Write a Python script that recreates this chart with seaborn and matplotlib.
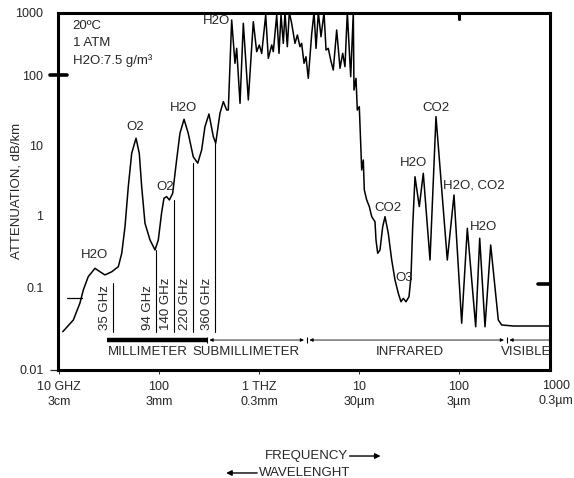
import numpy as np
import matplotlib.pyplot as plt
import seaborn as sns
from matplotlib.transforms import blended_transform_factory
from matplotlib.ticker import NullLocator

sns.set_style("white")
plt.rcParams['font.family'] = ['Liberation Sans', 'DejaVu Sans']

# attenuation curve, frequency in GHz, attenuation in dB/km
freq_ghz = [10.9, 13.9, 16.2, 17.5, 19.6, 22.9, 25.7, 28.8, 33.7, 39.2,
            42.4, 45.7, 49.3, 53.3, 58.9, 63.5, 67.1, 72.4, 81.3, 91.2,
            98.4, 106, 112, 119, 127, 137, 150, 162, 178, 196,
            220, 244, 267, 288, 316, 349, 369, 407, 440, 475,
            493, 533, 575, 598, 646, 697, 782, 877, 948, 1007,
            1064, 1167, 1239, 1340, 1390, 1503, 1585, 1660, 1750, 1820,
            1920, 2010, 2120, 2290, 2420, 2570, 2670, 2820, 2950, 3110,
            3370, 3550, 3720, 3920, 4170, 4470, 4680, 4930, 5210, 5530,
            5980, 6460, 6870, 7240, 7640, 8260, 8770, 8910, 9330, 9620,
            10070, 10640, 11040, 11300, 11940, 12680, 13400, 14450, 14790, 15380,
            16220, 17260, 18200, 19630, 21230, 22910, 24720, 26300, 27730, 29510,
            31620, 33110, 34430, 36310, 40090, 43950, 51290, 58880, 76390, 89130,
            106400, 121100, 146900, 161100, 182000, 207500, 247200, 267300, 349100, 813000]
atten_db_km = [0.0293, 0.0407, 0.0656, 0.0946, 0.143, 0.186, 0.167, 0.151, 0.167, 0.196,
               0.299, 0.691, 2.54, 7.6, 12.5, 7.6, 2.54, 0.769, 0.455, 0.332,
               0.455, 1.06, 1.73, 1.83, 1.64, 2.04, 6.1, 14.7, 23.3, 14.7,
               6.8, 5.5, 8.5, 18.2, 27.7, 13.2, 10.6, 28.4, 41.6, 31.6,
               31.6, 759, 154, 267, 39.4, 672, 44, 713, 236, 302,
               222, 912, 185, 302, 236, 912, 222, 912, 321, 1000,
               284, 1000, 672, 321, 437, 284, 321, 154, 196, 89.7,
               464, 1000, 267, 1000, 410, 1000, 251, 267, 174, 120,
               525, 128, 222, 136, 1000, 94.6, 1000, 61, 89.7, 31.6,
               35.2, 4.4, 6.1, 2.28, 1.64, 1.32, 0.948, 0.81, 0.455, 0.299,
               0.332, 0.691, 0.948, 0.561, 0.242, 0.129, 0.0861, 0.068, 0.0748, 0.068,
               0.0783, 0.143, 0.691, 3.52, 1.32, 3.94, 0.242, 25.4, 0.242, 1.93,
               0.0372, 0.658, 0.0337, 0.48, 0.0337, 0.388, 0.0407, 0.0354, 0.0344, 0.0344]

# absorption line labels
line_names = ["H2O", "O2", "O2", "H2O", "H2O", "CO2", "H2O", "H2O, CO2", "CO2", "O3", "H2O"]
line_freq = [22.9, 57.5, 115, 174, 372, 58900, 34700, 141000, 19500, 28200, 174000]
line_atten = [0.283, 18.1, 2.5, 33.8, 731, 33.8, 5.5, 2.68, 1.26, 0.137, 0.685]

# radar window markers
window_ghz = [35, 94, 140, 220, 360]
window_top = [0.117, 0.332, 1.64, 5.5, 10.6]
window_bottom = 0.029

# spectrum bands
band_edges = [30, 300, 3000, 300000, 813000]
band_names = ["MILLIMETER", "SUBMILLIMETER", "INFRARED", "VISIBLE"]
band_label_x = [31, 733, 32000, 470000]
band_y = 0.0232
band_text_y = 0.0166

x_ticks = [10, 100, 1000, 10000, 100000]
x_labels = ["10 GHZ\n3cm", "100\n3mm", "1 THZ\n0.3mm", "10\n30µm", "100\n3µm"]
y_ticks = [0.01, 0.1, 1, 10, 100, 1000]
y_labels = ["0.01", "0.1", "1", "10", "100", "1000"]

# the printed chart has uneven decade spacing on the attenuation axis
dec_log = [-3, -2, -1, 0, 1, 2, 3, 4]
dec_pos = [-82, 0, 82, 155, 225, 295, 357.5, 420]


def fwd(v):
    v = np.clip(np.asarray(v, dtype=float), 1e-12, None)
    return np.interp(np.log10(v), dec_log, dec_pos)


def inv(p):
    return 10 ** np.interp(np.asarray(p, dtype=float), dec_pos, dec_log)


fig = plt.figure(figsize=(5.74, 4.78), dpi=100)
ax = fig.add_axes([58 / 574, 1 - 370 / 478, 492 / 574, 357.5 / 478])

sns.lineplot(x=freq_ghz, y=atten_db_km, ax=ax, color="black", lw=1.1,
             estimator=None, sort=False)

ax.set_xscale("log")
ax.set_yscale("function", functions=(fwd, inv))
ax.set_xlim(9.77, 813000)
ax.set_ylim(0.01, 1000)

for name, fx, fy in zip(line_names, line_freq, line_atten):
    ax.text(fx, fy, name, ha="center", va="center", fontsize=9.5)

for f, top in zip(window_ghz, window_top):
    ax.plot([f, f], [window_bottom, top], color="black", lw=0.8)
    ax.annotate(f"{f} GHz", xy=(f, window_bottom * 1.07), xytext=(-1.5, 0),
                textcoords="offset points", rotation=90, ha="right", va="bottom",
                fontsize=9.5)

# small level mark near the left edge
ax.plot([12, 17], [0.075, 0.075], color="black", lw=0.9)

# band row
ax.plot(band_edges[:2], [band_y, band_y], color="black", lw=3.2, solid_capstyle="butt")
for a, b in zip(band_edges[1:3], band_edges[2:4]):
    ax.annotate("", xy=(b, band_y), xytext=(a, band_y),
                arrowprops=dict(arrowstyle="<|-|>", lw=0.6, color="black",
                                mutation_scale=5, shrinkA=2, shrinkB=2))
ax.annotate("", xy=(band_edges[4], band_y), xytext=(band_edges[3], band_y),
            arrowprops=dict(arrowstyle="<|-", lw=0.6, color="black",
                            mutation_scale=5, shrinkA=2, shrinkB=0))
ax.plot(band_edges[1:4], [band_y] * 3, "|", color="black", ms=5, mew=0.8)
for name, bx in zip(band_names, band_label_x):
    ax.text(bx, band_text_y, name, ha="left" if name == "MILLIMETER" else "center",
            va="center", fontsize=9.5)

ax.text(0.03, 0.978, "20ºC\n1 ATM\nH2O:7.5 g/m³", transform=ax.transAxes,
        ha="left", va="top", fontsize=9.5, linespacing=1.5)

# axes styling
for sp in ax.spines.values():
    sp.set_linewidth(2.2)
    sp.set_color("black")

ax.set_xticks(x_ticks)
ax.set_xticklabels(x_labels, fontsize=9)
for lbl in ax.get_xticklabels():
    lbl.set_linespacing(1.35)
ax.set_yticks(y_ticks)
ax.set_yticklabels(y_labels, fontsize=9)
ax.xaxis.set_minor_locator(NullLocator())
ax.yaxis.set_minor_locator(NullLocator())
ax.tick_params(axis="x", bottom=True, length=3, width=0.7, pad=5, direction="out")
ax.tick_params(axis="y", left=True, length=6, width=0.9, pad=4.5, direction="out")
for i, t in enumerate(ax.yaxis.get_major_ticks()):
    if y_labels[i] != "0.01":
        t.tick1line.set_visible(False)

# last frequency label sits just past the right frame, against the image edge
ax.text(1.0 + 23 / 492, -0.028, "1000\n0.3µm", transform=ax.transAxes, ha="right",
        va="top", multialignment="center", fontsize=9, linespacing=1.35, clip_on=False)

# heavy marks left over on the printed frame
bt = blended_transform_factory(ax.transData, ax.transAxes)
yt = blended_transform_factory(ax.transAxes, ax.transData)
ax.plot([-0.017, 0.018], [100, 100], transform=yt, color="black", lw=2.6, clip_on=False)
ax.plot([0.976, 1.0], [0.113, 0.113], transform=yt, color="black", lw=2.6, clip_on=False)
ax.plot([1e5, 1e5], [0.982, 1.0], transform=bt, color="black", lw=2.2, clip_on=False)

ax.set_ylabel("ATTENUATION, dB/km", fontsize=9.5)
ax.yaxis.set_label_coords(-0.072, 0.5)
ax.set_xlabel("")

fig.text(0.606, 0.046, "FREQUENCY", ha="right", va="center", fontsize=9.5)
fig.text(0.610, 0.0105, "WAVELENGHT", ha="right", va="center", fontsize=9.5)
ax.annotate("", xy=(0.663, 0.046), xytext=(0.609, 0.046), xycoords="figure fraction",
            textcoords="figure fraction",
            arrowprops=dict(arrowstyle="-|>", lw=1.0, color="black", mutation_scale=8,
                            shrinkA=0, shrinkB=0))
ax.annotate("", xy=(0.394, 0.0105), xytext=(0.448, 0.0105), xycoords="figure fraction",
            textcoords="figure fraction",
            arrowprops=dict(arrowstyle="-|>", lw=1.0, color="black", mutation_scale=8,
                            shrinkA=0, shrinkB=0))

fig.savefig("out.png", dpi=100)
